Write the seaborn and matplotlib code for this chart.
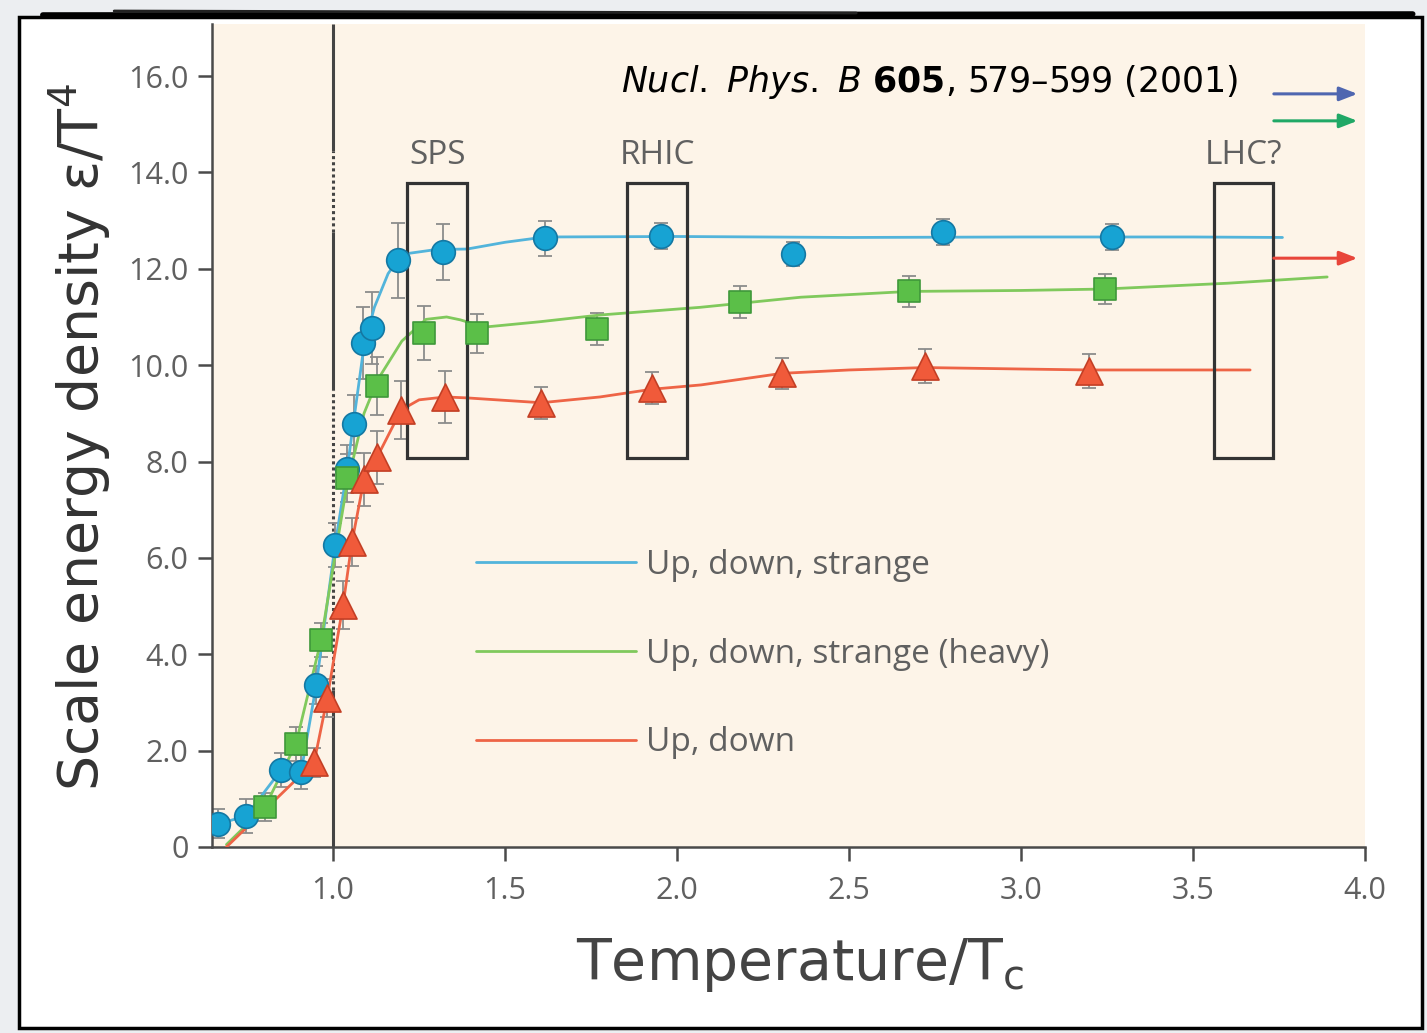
import numpy as np
import pandas as pd
import matplotlib
matplotlib.use("Agg")
import matplotlib.pyplot as plt
from matplotlib.patches import Rectangle
from matplotlib.lines import Line2D
import seaborn as sns

# ---------------- data ----------------
# Up, down, strange (blue circles)
uds_T = [0.665, 0.747, 0.849, 0.907, 0.951, 1.006, 1.041, 1.061, 1.087, 1.113,
         1.189, 1.320, 1.616, 1.953, 2.337, 2.773, 3.265]
uds_e = [0.48, 0.64, 1.60, 1.56, 3.36, 6.27, 7.84, 8.78, 10.46, 10.77,
         12.18, 12.34, 12.63, 12.68, 12.30, 12.76, 12.66]
uds_err = [0.30, 0.35, 0.35, 0.35, 0.40, 0.45, 0.50, 0.60, 0.75, 0.75,
           0.78, 0.58, 0.36, 0.27, 0.25, 0.27, 0.27]
uds_curve_T = [0.665, 0.747, 0.849, 0.907, 0.951, 1.006, 1.041, 1.061, 1.090, 1.120,
               1.160, 1.200, 1.300, 1.390, 1.500, 1.616, 2.000, 2.500, 3.000, 3.500, 3.760]
uds_curve_e = [0.48, 0.64, 1.60, 1.56, 3.36, 6.27, 7.84, 8.90, 10.40, 11.20,
               11.90, 12.30, 12.40, 12.41, 12.55, 12.66, 12.67, 12.65, 12.66, 12.66, 12.65]

# Up, down, strange (heavy) (green squares)
udsh_T = [0.802, 0.892, 0.965, 1.041, 1.128, 1.265, 1.419, 1.767, 2.183, 2.674, 3.244]
udsh_e = [0.83, 2.14, 4.29, 7.66, 9.56, 10.66, 10.66, 10.75, 11.31, 11.53, 11.58]
udsh_err = [0.30, 0.35, 0.35, 0.50, 0.60, 0.56, 0.41, 0.34, 0.34, 0.32, 0.32]
udsh_curve_T = [0.690, 0.802, 0.892, 0.965, 1.000, 1.040, 1.090, 1.130, 1.200, 1.270,
                1.330, 1.370, 1.440, 1.600, 1.775, 2.067, 2.360, 2.674, 3.000, 3.244,
                3.600, 3.890]
udsh_curve_e = [0.05, 0.83, 2.14, 4.29, 5.80, 7.50, 9.00, 9.70, 10.50, 10.95,
                11.00, 10.94, 10.79, 10.90, 11.04, 11.20, 11.41, 11.53, 11.55, 11.58,
                11.70, 11.83]

# Up, down (red triangles)
ud_T = [0.945, 0.983, 1.029, 1.055, 1.090, 1.128, 1.198, 1.326, 1.605, 1.927,
        2.305, 2.721, 3.198]
ud_e = [1.76, 3.09, 5.02, 6.33, 7.63, 8.09, 9.07, 9.34, 9.21, 9.52,
        9.83, 9.98, 9.88]
ud_err = [0.30, 0.40, 0.50, 0.50, 0.55, 0.55, 0.60, 0.54, 0.33, 0.33,
          0.32, 0.35, 0.35]
ud_curve_T = [0.690, 0.945, 0.983, 1.029, 1.055, 1.090, 1.128, 1.198, 1.250, 1.326,
              1.390, 1.605, 1.776, 1.927, 2.070, 2.305, 2.500, 2.721, 3.000, 3.198,
              3.500, 3.666]
ud_curve_e = [0.00, 1.76, 3.09, 5.02, 6.33, 7.63, 8.09, 9.07, 9.28, 9.34,
              9.32, 9.22, 9.34, 9.50, 9.59, 9.83, 9.90, 9.95, 9.92, 9.90,
              9.90, 9.90]

series_labels = ["Up, down, strange", "Up, down, strange (heavy)", "Up, down"]

# collider windows
regions = ["SPS", "RHIC", "LHC?"]
region_lo = [1.215, 1.855, 3.561]
region_hi = [1.390, 2.029, 3.733]
region_bottom = 8.07
region_top = 13.78

# arrows on the right (continuation)
arrow_levels = [15.63, 15.07, 12.22]

x_ticks = [1.0, 1.5, 2.0, 2.5, 3.0, 3.5, 4.0]
x_ticklabels = ["1.0", "1.5", "2.0", "2.5", "3.0", "3.5", "4.0"]
y_ticks = [0, 2, 4, 6, 8, 10, 12, 14, 16]
y_ticklabels = ["0", "2.0", "4.0", "6.0", "8.0", "10.0", "12.0", "14.0", "16.0"]

# ---------------- styling ----------------
sns.set_theme(style="ticks")
plt.rcParams['font.family'] = ['DejaVu Sans']

BLUE_LINE = "#52b4db"
BLUE_FILL = "#17a3d3"
BLUE_EDGE = "#1478a3"
GREEN_LINE = "#80c95c"
GREEN_FILL = "#5bbf48"
GREEN_EDGE = "#3f983a"
RED_LINE = "#ee6446"
RED_FILL = "#f05a3a"
RED_EDGE = "#c33f25"
GREY_TXT = "#606060"
AX_COL = "#4a4a4a"

W, H = 1427, 1033
fig = plt.figure(figsize=(W / 100, H / 100), dpi=100)
fig.patch.set_facecolor("#eceef1")

# white sketch panel
panel = Rectangle((19 / W, 5 / H), 1403 / W, 1011 / H, transform=fig.transFigure,
                  facecolor="white", edgecolor="black", linewidth=2.5, zorder=-10)
fig.patches.append(panel)
fig.add_artist(Line2D([0.03, 0.99], [1 - 15 / H, 1 - 14 / H], transform=fig.transFigure,
                      color="black", linewidth=4, zorder=-5))
fig.add_artist(Line2D([0.08, 0.6], [1 - 11 / H, 1 - 13 / H], transform=fig.transFigure,
                      color="#222222", linewidth=2, zorder=-5))

ax = fig.add_axes([212 / W, 1 - 847 / H, (1365 - 212) / W, (847 - 24) / H])
ax.set_facecolor("#fdf4e8")

# vertical line at T = Tc (solid / dotted segments)
ax.vlines(1.0, 14.44, 17.08, color="#444444", linewidth=2.2, zorder=1)
ax.vlines(1.0, 12.76, 14.44, color="#444444", linewidth=2.2, linestyles=[(0, (1, 1))], zorder=1)
ax.vlines(1.0, 9.48, 12.76, color="#444444", linewidth=2.2, zorder=1)
ax.vlines(1.0, 3.26, 9.48, color="#444444", linewidth=2.2, linestyles=[(0, (1, 1))], zorder=1)
ax.vlines(1.0, 0.0, 3.26, color="#444444", linewidth=2.2, zorder=1)

series = [
    (uds_T, uds_e, uds_err, uds_curve_T, uds_curve_e, BLUE_LINE, BLUE_FILL, BLUE_EDGE, "o", 290),
    (udsh_T, udsh_e, udsh_err, udsh_curve_T, udsh_curve_e, GREEN_LINE, GREEN_FILL, GREEN_EDGE, "s", 270),
    (ud_T, ud_e, ud_err, ud_curve_T, ud_curve_e, RED_LINE, RED_FILL, RED_EDGE, "^", 380),
]

for (T, e, err, cT, ce, lc, fc, ec, mk, s) in series:
    sns.lineplot(x=cT, y=ce, ax=ax, color=lc, linewidth=2.0, sort=False,
                 estimator=None, zorder=3)
    ax.errorbar(T, e, yerr=err, fmt="none", ecolor="#8c8c8c", elinewidth=1.3,
                capsize=5, capthick=1.3, zorder=2)
    sns.scatterplot(x=T, y=e, ax=ax, marker=mk, s=s, color=fc, edgecolor=ec,
                    linewidth=1.2, zorder=5)

# collider boxes
for name, lo, hi in zip(regions, region_lo, region_hi):
    ax.add_patch(Rectangle((lo, region_bottom), hi - lo, region_top - region_bottom,
                           fill=False, edgecolor="#333333", linewidth=2.3, zorder=4))
    ax.text((lo + hi) / 2, 14.36, name, ha="center", va="center", fontsize=24,
            color=GREY_TXT, family="Open Sans", zorder=6)

# arrows
for lvl, col in zip(arrow_levels, ["#4f66b0", "#20a866", "#e8453a"]):
    ax.annotate("", xy=(3.978, lvl), xytext=(3.735, lvl),
                arrowprops=dict(arrowstyle="-|>,head_length=0.9,head_width=0.35",
                                color=col, linewidth=2.2, shrinkA=0, shrinkB=0),
                zorder=6)

# citation
ax.text(0.89, 0.9295, r"$\it{Nucl.\ Phys.\ B}$ $\bf{605}$, 579–599 (2001)",
        transform=ax.transAxes, ha="right", va="center", fontsize=25, color="black")

# legend (lines only)
handles = [Line2D([], [], color=c, linewidth=2.0) for c in [BLUE_LINE, GREEN_LINE, RED_LINE]]
leg = ax.legend(handles, series_labels, loc="upper left", bbox_to_anchor=(0.229, 0.362),
                frameon=False, handlelength=4.8, handletextpad=0.3,
                labelspacing=1.67, borderpad=0, borderaxespad=0,
                prop={"family": "Open Sans", "size": 24})
for t in leg.get_texts():
    t.set_color(GREY_TXT)

# axes
ax.set_xlim(0.648, 4.0)
ax.set_ylim(0, 17.08)
ax.set_xticks(x_ticks)
ax.set_xticklabels(x_ticklabels)
ax.set_yticks(y_ticks)
ax.set_yticklabels(y_ticklabels)
for lab in ax.get_xticklabels() + ax.get_yticklabels():
    lab.set_family("Open Sans")
ax.tick_params(axis="both", direction="out", length=10, width=1.8, color=AX_COL,
               labelsize=22, labelcolor=GREY_TXT)
ax.tick_params(axis="x", pad=11)
ax.tick_params(axis="y", pad=7)
sns.despine(ax=ax)
for sp in ["left", "bottom"]:
    ax.spines[sp].set_color(AX_COL)
    ax.spines[sp].set_linewidth(1.8)

ax.set_xlabel(r"Temperature/T$_\mathregular{c}$", fontsize=41, color="#444444", va="center")
ax.xaxis.set_label_coords(0.51, -0.143)
ax.set_ylabel(r"Scale energy density ε/T$^\mathregular{4}$", fontsize=40, color="#333333",
              va="center")
ax.yaxis.set_label_coords(-0.1145, 0.498)

fig.savefig("out.png", dpi=100, facecolor=fig.get_facecolor())
